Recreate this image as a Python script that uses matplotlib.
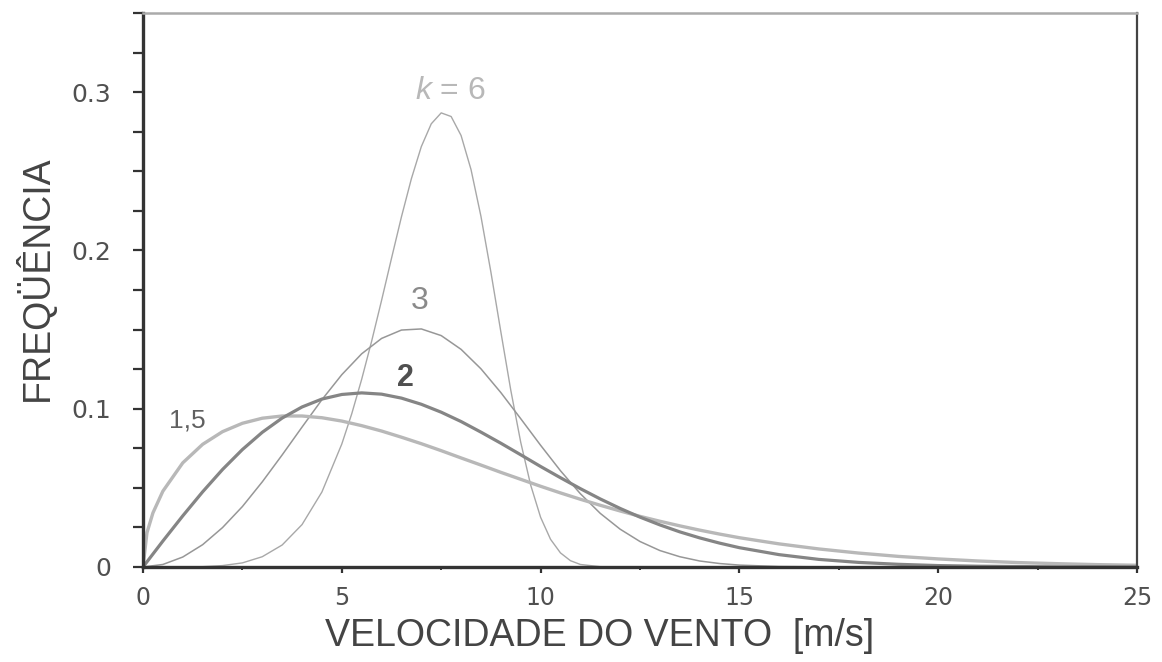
import matplotlib
matplotlib.use("Agg")
import matplotlib.pyplot as plt
from matplotlib.ticker import MultipleLocator, FixedLocator

plt.rcParams["mathtext.fontset"] = "custom"
plt.rcParams["mathtext.it"] = "Liberation Sans:italic"
plt.rcParams["mathtext.rm"] = "Liberation Sans"

# wind speed [m/s] and frequency for each curve
k15_x = [0, 0.1, 0.25, 0.5, 1.0, 1.5, 2.0, 2.5, 3.0, 3.5, 4.0, 4.5, 5.0, 5.5, 6.0, 6.5, 7.0, 7.5,
         8.0, 8.5, 9.0, 9.5, 10.0, 10.5, 11.0, 11.5, 12.0, 12.5, 13.0, 13.5, 14.0, 14.5, 15.0,
         16, 17, 18, 19, 20, 21, 22, 23, 24, 25]
k15_y = [0, 0.0217, 0.0342, 0.0479, 0.0658, 0.0775, 0.0855, 0.0908, 0.0940, 0.0954, 0.0954,
         0.0943, 0.0922, 0.0893, 0.0859, 0.0820, 0.0779, 0.0735, 0.0689, 0.0644, 0.0598, 0.0554,
         0.0510, 0.0468, 0.0428, 0.0390, 0.0354, 0.0320, 0.0289, 0.0260, 0.0233, 0.0208, 0.0185,
         0.0146, 0.0114, 0.0088, 0.0067, 0.0051, 0.0038, 0.0028, 0.0021, 0.0015, 0.0011]

k2_x = [0, 0.5, 1.0, 1.5, 2.0, 2.5, 3.0, 3.5, 4.0, 4.5, 5.0, 5.5, 6.0, 6.5, 7.0, 7.5, 8.0, 8.5,
        9.0, 9.5, 10.0, 10.5, 11.0, 11.5, 12.0, 12.5, 13.0, 13.5, 14.0, 14.5, 15.0,
        16, 17, 18, 19, 20, 21, 22, 23, 24, 25]
k2_y = [0, 0.0164, 0.0323, 0.0475, 0.0616, 0.0742, 0.0851, 0.0941, 0.1011, 0.1061, 0.1090,
        0.1100, 0.1092, 0.1067, 0.1028, 0.0978, 0.0919, 0.0852, 0.0782, 0.0709, 0.0635, 0.0564,
        0.0495, 0.0430, 0.0370, 0.0315, 0.0266, 0.0222, 0.0184, 0.0151, 0.0122,
        0.0078, 0.0048, 0.0029, 0.0017, 0.0009, 0.0005, 0.0003, 0.0001, 0.0001, 0.0]

k3_x = k2_x
k3_y = [0, 0.0016, 0.0063, 0.0141, 0.0249, 0.0382, 0.0538, 0.0708, 0.0884, 0.1057, 0.1215,
        0.1347, 0.1444, 0.1497, 0.1504, 0.1462, 0.1375, 0.1252, 0.1102, 0.0937, 0.0769, 0.0608,
        0.0463, 0.0339, 0.0239, 0.0161, 0.0104, 0.0065, 0.0038, 0.0022, 0.0012,
        0.0003, 0.0001, 0, 0, 0, 0, 0, 0, 0, 0]

k6_x = [0, 1.0, 1.5, 2.0, 2.5, 3.0, 3.5, 4.0, 4.5, 5.0, 5.25, 5.5, 5.75, 6.0, 6.25, 6.5, 6.75,
        7.0, 7.25, 7.5, 7.75, 8.0, 8.25, 8.5, 8.75, 9.0, 9.25, 9.5, 9.75, 10.0, 10.25, 10.5,
        10.75, 11.0, 11.5, 12.0, 25]
k6_y = [0, 0.0, 0.0002, 0.0009, 0.0026, 0.0065, 0.0139, 0.0268, 0.0474, 0.0777, 0.0968, 0.1186,
        0.1426, 0.1684, 0.1950, 0.2212, 0.2453, 0.2656, 0.2800, 0.2869, 0.2846, 0.2726, 0.2511,
        0.2215, 0.1863, 0.1486, 0.1117, 0.0788, 0.0518, 0.0314, 0.0175, 0.0089, 0.0040, 0.0016,
        0.0002, 0.0, 0.0]

y_ticks = [0, 0.1, 0.2, 0.3]
y_ticklabels = ["0", "0.1", "0.2", "0.3"]

fig = plt.figure(figsize=(11.62, 6.62), dpi=100)
ax = fig.add_axes([143 / 1162, 95 / 662, 994 / 1162, 554 / 662])

ax.plot(k6_x, k6_y, color="#a8a8a8", lw=1.0)
ax.plot(k3_x, k3_y, color="#979797", lw=1.1)
ax.plot(k15_x, k15_y, color="#b8b8b8", lw=2.4)
ax.plot(k2_x, k2_y, color="#858585", lw=2.3)

ax.set_xlim(0, 25)
ax.set_ylim(0, 0.35)

ax.xaxis.set_major_locator(MultipleLocator(5))
ax.xaxis.set_minor_locator(MultipleLocator(2.5))
ax.yaxis.set_major_locator(FixedLocator(y_ticks))
ax.set_yticklabels(y_ticklabels)
ax.yaxis.set_minor_locator(MultipleLocator(0.025))

ax.tick_params(axis="y", which="both", direction="out", length=7, width=1.6, color="#333333",
               pad=16, labelsize=18, labelcolor="#505050")
ax.tick_params(axis="x", which="major", direction="out", length=4, width=1.6, color="#333333",
               pad=10, labelsize=17, labelcolor="#505050")
ax.tick_params(axis="x", which="minor", direction="out", length=2.5, width=1.4, color="#333333")

for side in ("left", "bottom"):
    ax.spines[side].set_linewidth(2.4)
    ax.spines[side].set_color("#333333")
ax.spines["right"].set_linewidth(1.6)
ax.spines["right"].set_color("#444444")
ax.spines["top"].set_linewidth(1.8)
ax.spines["top"].set_color("#aaaaaa")

# curve labels
ax.text(7.72, 0.3006, r"$k$ = 6", color="#b8b8b8", fontsize=23, family="Liberation Sans",
        ha="center", va="center")
ax.text(6.97, 0.1682, "3", color="#8a8a8a", fontsize=23, family="Liberation Sans",
        ha="center", va="center")
ax.text(6.59, 0.1191, "2", color="#505050", fontsize=22, family="Liberation Sans",
        fontweight="bold", ha="center", va="center")
ax.text(1.11, 0.0926, "1,5", color="#606060", fontsize=19, family="Liberation Sans",
        ha="center", va="center")

fig.text(600 / 1162, 1 - 646 / 662, "VELOCIDADE DO VENTO  [m/s]", fontsize=27,
         family="Liberation Sans", color="#444444", ha="center", va="baseline")
fig.text(35 / 1162, 1 - 278 / 662, "FREQÜÊNCIA", fontsize=27, family="Liberation Sans",
         color="#444444", rotation=90, ha="center", va="center")

fig.savefig("out.png", dpi=100)
